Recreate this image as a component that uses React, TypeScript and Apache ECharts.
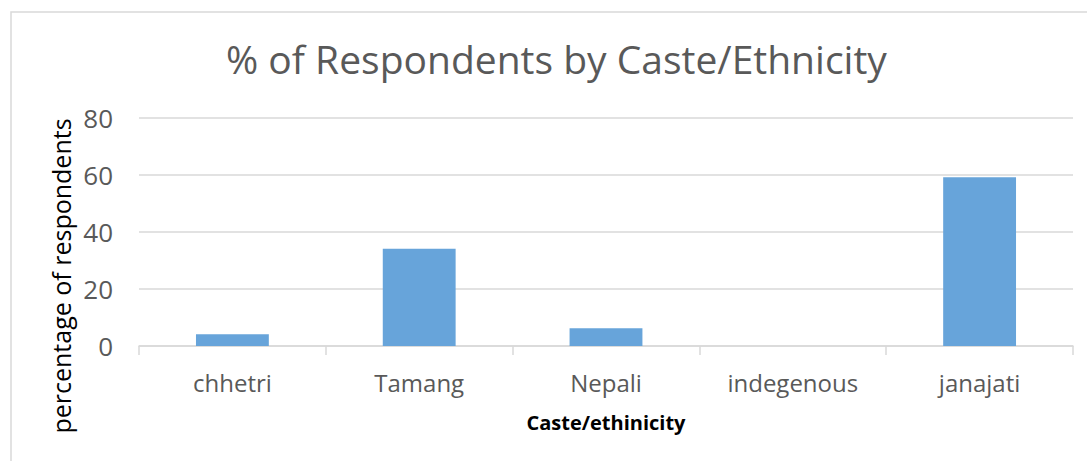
import React, { useEffect, useRef } from "react";
import * as echarts from "echarts";

const categories = ["chhetri", "Tamang", "Nepali", "indegenous", "janajati"];
const percentValues = [4.1, 34.1, 6.2, 0, 59.2];
const yTicks = { min: 0, max: 80, interval: 20 };

const FONT = "'Open Sans', 'Noto Sans', sans-serif";

export default function App() {
  const ref = useRef<HTMLDivElement>(null);
  useEffect(() => {
    if (!ref.current) return;
    const chart = echarts.init(ref.current, undefined, { renderer: "svg" });
    chart.setOption({
      animation: false,
      backgroundColor: "#ffffff",
      title: {
        text: "% of Respondents by Caste/Ethnicity",
        left: 221,
        top: 34,
        textStyle: {
          fontFamily: FONT,
          fontSize: 39,
          fontWeight: "normal",
          color: "#595959",
        },
      },
      graphic: [
        {
          type: "rect",
          shape: { x: 11, y: 12, width: 1200, height: 600 },
          style: { fill: "none", stroke: "#d9d9d9", lineWidth: 1.5 },
          silent: true,
        },
        {
          type: "text",
          x: 61,
          y: 276,
          rotation: Math.PI / 2,
          style: {
            text: "percentage of respondents",
            fontFamily: FONT,
            fontSize: 25,
            fill: "#000000",
            align: "center",
            verticalAlign: "middle",
          },
          silent: true,
        },
      ],
      grid: { left: 139, right: 14, top: 118, bottom: 115, containLabel: false },
      xAxis: {
        type: "category",
        data: categories,
        boundaryGap: true,
        name: "Caste/ethinicity",
        nameLocation: "middle",
        nameGap: 66,
        nameTextStyle: {
          fontFamily: FONT,
          fontSize: 20,
          fontWeight: "bold",
          color: "#000000",
        },
        axisLine: { show: true, lineStyle: { color: "#d9d9d9", width: 1.5 } },
        axisTick: { show: true, length: 9, lineStyle: { color: "#d9d9d9", width: 1.5 } },
        axisLabel: {
          fontFamily: FONT,
          fontSize: 24,
          color: "#595959",
          margin: 24,
        },
        splitLine: { show: false },
      },
      yAxis: {
        type: "value",
        min: yTicks.min,
        max: yTicks.max,
        interval: yTicks.interval,
        axisLine: { show: false },
        axisTick: { show: false },
        axisLabel: {
          fontFamily: FONT,
          fontSize: 26,
          color: "#595959",
          margin: 26,
        },
        splitLine: { show: true, lineStyle: { color: "#d9d9d9", width: 1.5 } },
      },
      series: [
        {
          type: "bar",
          data: percentValues,
          barCategoryGap: "61%",
          itemStyle: { color: "#67a4da" },
        },
      ],
    });
    return () => chart.dispose();
  }, []);
  return (
    <div
      ref={ref}
      style={{ position: "fixed", left: 0, top: 0, width: 1087, height: 461 }}
    />
  );
}
